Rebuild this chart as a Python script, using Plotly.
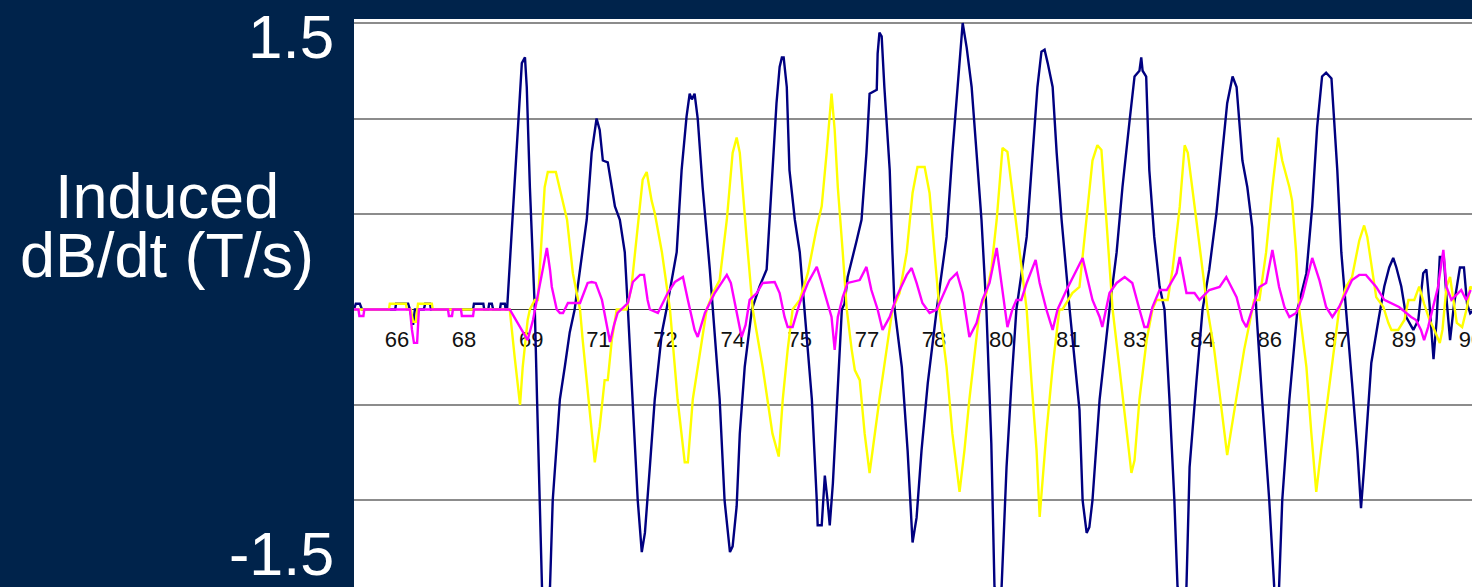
import plotly.graph_objects as go

# ---- data (time in s, induced dB/dt in T/s) ----
navy_t = [65.04, 65.08, 65.17, 65.22, 65.96, 65.98, 66.25, 66.29, 66.36, 66.40, 66.60, 66.63, 66.74, 66.76,
          67.70, 67.72, 67.93, 67.95, 68.04, 68.06, 68.12, 68.15, 68.30, 68.32, 68.41, 68.43,
          68.46, 68.59, 68.70, 68.79, 68.86, 68.90, 68.97, 69.04, 69.08, 69.13, 69.19, 69.24, 69.33, 69.42,
          69.48, 69.64, 69.75, 69.86, 69.97, 70.09, 70.24, 70.35, 70.46, 70.53, 70.60, 70.71, 70.76, 70.87,
          70.98, 71.09, 71.16, 71.27, 71.38, 71.47, 71.54, 71.65, 71.76, 71.92, 72.03, 72.25, 72.36, 72.47,
          72.54, 72.59, 72.65, 72.72, 72.83, 72.99, 73.06, 73.21, 73.32, 73.44, 73.50, 73.59, 73.66, 73.77,
          73.93, 74.10, 74.26, 74.37, 74.48, 74.55, 74.60, 74.64, 74.71, 74.77, 74.89, 75.00, 75.11, 75.27,
          75.38, 75.40, 75.49, 75.56, 75.62, 75.67, 75.74, 75.83, 75.94, 76.00, 76.07, 76.27, 76.38, 76.49,
          76.56, 76.72, 76.74, 76.78, 76.83, 76.89, 77.01, 77.07, 77.12, 77.28, 77.41, 77.52, 77.61, 77.72,
          77.86, 78.06, 78.28, 78.41, 78.53, 78.64, 78.73, 78.84, 78.95, 79.06, 79.17, 79.28, 79.35, 79.42,
          79.51, 79.62, 79.73, 79.84, 80.07, 80.20, 80.31, 80.40, 80.47, 80.54, 80.65, 80.74, 80.85, 81.03,
          81.25, 81.32, 81.41, 81.47, 81.54, 81.70, 81.92, 82.08, 82.21, 82.37, 82.48, 82.59, 82.63, 82.66,
          82.74, 82.81, 82.92, 83.04, 83.15, 83.26, 83.37, 83.44, 83.53, 83.64, 83.71, 83.86, 84.00, 84.15,
          84.31, 84.44, 84.55, 84.67, 84.76, 84.89, 85.00, 85.11, 85.20, 85.33, 85.49, 85.60, 85.65, 85.71,
          85.78, 85.94, 86.12, 86.32, 86.45, 86.56, 86.67, 86.76, 86.88, 86.94, 87.01, 87.10, 87.21, 87.34,
          87.46, 87.54, 87.61, 87.72, 87.77, 87.93, 88.06, 88.17, 88.26, 88.33, 88.44, 88.55, 88.71, 88.82,
          88.93, 89.00, 89.07, 89.16, 89.23, 89.30, 89.39, 89.46, 89.53, 89.62, 89.75, 89.84, 89.91, 89.98,
          90.07]
navy_v = [0, 0.03, 0.03, 0, 0, 0.03, 0.03, 0, -0.08, 0, 0, 0.03, 0.03, 0,
          0, 0.03, 0.03, 0, 0, 0.03, 0.03, 0, 0, 0.03, 0.03, 0,
          0, 0.505, 0.99, 1.29, 1.32, 1.165, 0.64, 0.21, 0, -0.47, -1.0, -1.45, -1.63, -1.45,
          -1.0, -0.47, -0.30, -0.12, 0, 0.21, 0.47, 0.82, 1.00, 0.94, 0.78, 0.77, 0.69, 0.54,
          0.47, 0.30, 0, -0.47, -1.0, -1.27, -1.17, -0.825, -0.47, -0.12, 0.01, 0.30, 0.73, 1.01,
          1.13, 1.10, 1.13, 1.00, 0.64, 0.21, 0, -0.47, -1.0, -1.27, -1.24, -1.03, -0.65, -0.30,
          0, 0.12, 0.21, 0.64, 1.08, 1.27, 1.32, 1.32, 1.165, 0.73, 0.47, 0.30, 0, -0.47,
          -1.0, -1.13, -1.13, -0.87, -1.0, -1.13, -0.91, -0.47, 0, 0.03, 0.17, 0.36, 0.47, 0.82,
          1.13, 1.15, 1.34, 1.45, 1.43, 1.165, 0.73, 0.30, 0, -0.30, -0.74, -1.22, -1.09, -0.74,
          -0.385, 0, 0.38, 0.82, 1.165, 1.50, 1.37, 1.165, 0.82, 0.47, 0, -0.70, -1.45, -1.60,
          -1.45, -0.825, -0.385, 0, 0.38, 0.82, 1.165, 1.35, 1.36, 1.29, 1.165, 0.82, 0.47, 0,
          -0.526, -1.0, -1.17, -1.14, -1.0, -0.47, 0, 0.30, 0.64, 0.99, 1.22, 1.25, 1.32, 1.25,
          1.22, 0.73, 0.38, 0.12, 0, -0.47, -1.0, -1.45, -1.60, -1.45, -0.825, -0.385, 0, 0.21,
          0.505, 0.82, 1.08, 1.22, 1.165, 0.78, 0.64, 0.43, 0, -0.47, -1.0, -1.45, -1.57, -1.45,
          -1.0, -0.47, 0, 0.19, 0.54, 0.955, 1.22, 1.24, 1.21, 0.99, 0.73, 0.30, 0, -0.385,
          -0.74, -1.04, -0.825, -0.47, -0.28, -0.055, 0.12, 0.22, 0.27, 0.22, 0.12, -0.04, -0.107, -0.055,
          0.19, 0.21, 0.03, -0.26, -0.055, 0.275, 0.275, 0.03, -0.16, 0.03, 0.22, 0.22, 0.03, -0.02,
          0]

yellow_t = [65.04, 65.82, 65.84, 66.20, 66.22, 66.31, 66.36, 66.42, 66.47, 66.78, 66.80,
            68.52, 68.63, 68.75, 68.81, 68.92, 68.97, 69.08, 69.15, 69.24, 69.30, 69.37, 69.55, 69.68,
            69.80, 69.93, 70.09, 70.15, 70.31, 70.42, 70.53, 70.64, 70.71, 70.80, 70.91, 71.13, 71.24,
            71.36, 71.49, 71.58, 71.69, 71.76, 71.92, 72.10, 72.27, 72.43, 72.50, 72.61, 72.92, 73.06,
            73.21, 73.37, 73.50, 73.59, 73.66, 73.81, 73.95, 74.17, 74.39, 74.53, 74.62, 74.73, 74.84,
            75.00, 75.18, 75.38, 75.49, 75.60, 75.71, 75.78, 75.85, 75.96, 76.05, 76.16, 76.23, 76.34,
            76.45, 76.56, 76.67, 76.78, 76.94, 77.07, 77.23, 77.39, 77.52, 77.63, 77.79, 77.90, 78.01,
            78.12, 78.28, 78.41, 78.57, 78.68, 78.79, 79.02, 79.17, 79.28, 79.40, 79.51, 79.53, 79.64,
            79.75, 79.91, 80.07, 80.18, 80.29, 80.36, 80.42, 80.51, 80.65, 80.80, 80.87, 81.09, 81.25,
            81.41, 81.54, 81.65, 81.74, 81.85, 81.92, 81.99, 82.14, 82.30, 82.41, 82.48, 82.59, 82.75,
            82.88, 82.97, 83.22, 83.33, 83.49, 83.60, 83.67, 83.86, 84.00, 84.11, 84.26, 84.42, 84.55,
            84.64, 84.75, 84.93, 85.11, 85.15, 85.27, 85.42, 85.56, 85.69, 85.78, 85.94, 86.00, 86.09,
            86.16, 86.32, 86.43, 86.54, 86.65, 86.79, 86.94, 87.05, 87.21, 87.34, 87.50, 87.61, 87.68,
            87.79, 87.88, 88.04, 88.15, 88.22, 88.37, 88.51, 88.60, 88.73, 88.84, 88.95, 89.07, 89.18,
            89.30, 89.36, 89.45, 89.53, 89.62, 89.68, 89.80, 89.91, 89.98, 90.07]
yellow_v = [0, 0, 0.03, 0.03, 0, 0, -0.065, -0.065, 0.03, 0.03, 0,
            0, -0.25, -0.50, -0.30, -0.055, 0, 0.05, 0.05, 0.38, 0.64, 0.72, 0.72, 0.59,
            0.47, 0.19, 0, -0.16, -0.526, -0.80, -0.615, -0.37, -0.37, -0.16, 0, 0, 0.12,
            0.38, 0.68, 0.72, 0.57, 0.505, 0.30, 0, -0.47, -0.80, -0.80, -0.47, 0, 0.086,
            0.154, 0.47, 0.82, 0.90, 0.82, 0.38, 0, -0.30, -0.65, -0.77, -0.47, -0.21, 0,
            0.05, 0.19, 0.43, 0.54, 0.82, 1.13, 0.94, 0.64, 0.30, 0, -0.21, -0.317, -0.37,
            -0.65, -0.856, -0.65, -0.47, -0.21, 0, 0.086, 0.30, 0.61, 0.746, 0.746, 0.61, 0.30,
            0, -0.30, -0.65, -0.955, -0.736, -0.47, 0, 0.086, 0.21, 0.47, 0.82, 0.846, 0.825,
            0.61, 0.30, 0, -0.385, -0.736, -1.086, -0.908, -0.647, -0.30, 0, 0, 0.086, 0.118,
            0.47, 0.78, 0.86, 0.835, 0.47, 0.21, 0, -0.30, -0.647, -0.856, -0.79, -0.47, -0.16,
            0, 0.05, 0.05, 0.21, 0.537, 0.86, 0.82, 0.47, 0.21, 0, -0.21, -0.526, -0.762,
            -0.63, -0.47, -0.21, 0, 0.05, 0.05, 0.30, 0.64, 0.90, 0.78, 0.64, 0.57, 0.30,
            0, -0.30, -0.647, -0.955, -0.736, -0.47, -0.21, 0, 0.12, 0.17, 0.36, 0.44, 0.38,
            0.21, 0.065, 0.013, -0.07, -0.107, -0.107, -0.055, 0.05, 0.05, 0.12, 0.03, -0.055, -0.107,
            -0.175, -0.107, 0.12, 0.17, 0.03, -0.07, -0.092, 0.013, 0.12, 0.10]

magenta_t = [65.04, 65.14, 65.16, 65.25, 65.27, 66.29, 66.335, 66.38, 66.45, 66.49, 67.14, 67.16, 67.23,
             67.25, 67.43, 67.45, 67.70, 67.72,
             68.52, 68.79, 68.92, 69.04, 69.13, 69.19, 69.30, 69.35, 69.42, 69.46, 69.57, 69.64, 69.71,
             69.82, 70.09, 70.26, 70.35, 70.44, 70.58, 70.71, 70.76, 70.85, 70.93, 71.16, 71.27, 71.43,
             71.52, 71.60, 71.65, 71.83, 72.05, 72.21, 72.39, 72.50, 72.65, 72.72, 72.88, 73.10, 73.26,
             73.37, 73.46, 73.61, 73.70, 73.79, 73.88, 74.04, 74.17, 74.44, 74.55, 74.66, 74.73, 74.84,
             75.00, 75.18, 75.38, 75.49, 75.60, 75.71, 75.78, 75.85, 75.96, 76.07, 76.34, 76.49, 76.60,
             76.74, 76.85, 77.01, 77.16, 77.39, 77.50, 77.61, 77.74, 77.90, 78.06, 78.35, 78.51, 78.64,
             78.79, 78.95, 79.08, 79.24, 79.40, 79.53, 79.64, 79.75, 79.84, 79.95, 80.07, 80.27, 80.36,
             80.51, 80.65, 80.76, 80.96, 81.32, 81.43, 81.54, 81.70, 81.76, 81.92, 82.08, 82.26, 82.43,
             82.59, 82.70, 82.77, 82.88, 83.04, 83.20, 83.42, 83.49, 83.64, 83.82, 83.93, 84.15, 84.38,
             84.53, 84.76, 84.89, 84.98, 85.11, 85.27, 85.42, 85.56, 85.71, 85.83, 85.94, 86.09, 86.23,
             86.45, 86.61, 86.76, 86.90, 87.05, 87.34, 87.50, 87.65, 87.88, 88.06, 88.22, 88.39, 88.66,
             88.77, 88.88, 88.95, 89.04, 89.15, 89.26, 89.38, 89.45, 89.56, 89.78, 89.89, 89.99]
magenta_v = [0, 0, -0.034, -0.034, 0, 0, -0.107, -0.175, -0.175, 0, 0, -0.034, -0.034,
             0, 0, -0.034, -0.034, 0,
             0, -0.107, -0.16, -0.055, 0.05, 0.139, 0.249, 0.322, 0.207, 0.118, 0, -0.018, -0.018,
             0.034, 0.034, 0.139, 0.144, 0.139, 0.05, -0.123, -0.17, -0.081, -0.018, 0.034, 0.144, 0.181,
             0.181, 0.05, 0, -0.018, 0.086, 0.144, 0.17, 0.05, -0.107, -0.144, -0.018, 0.086, 0.139,
             0.181, 0.139, -0.039, -0.144, -0.081, 0.05, 0.086, 0.139, 0.144, 0.086, -0.039, -0.092, -0.092,
             0.034, 0.139, 0.223, 0.139, 0.05, -0.039, -0.212, -0.039, 0.065, 0.139, 0.154, 0.223, 0.102,
             0, -0.107, -0.039, 0.065, 0.181, 0.217, 0.139, 0.034, -0.018, 0, 0.154, 0.191, 0.086,
             -0.144, -0.071, 0.05, 0.139, 0.322, 0.086, -0.092, 0, 0.05, 0.05, 0.139, 0.26, 0.139,
             0, -0.107, 0, 0.102, 0.27, 0.154, 0.05, -0.039, -0.092, 0.086, 0.139, 0.17, 0.139,
             0, -0.092, -0.092, 0.013, 0.102, 0.102, 0.191, 0.275, 0.086, 0.086, 0.05, 0.102, 0.118,
             0.17, 0.065, -0.055, -0.092, 0, 0.118, 0.139, 0.312, 0.118, 0.013, -0.039, -0.018, 0.065,
             0.27, 0.154, 0.013, -0.039, 0.013, 0.154, 0.181, 0.181, 0.118, 0.05, 0.034, 0.013, -0.039,
             -0.055, -0.107, -0.16, -0.092, 0.013, 0.118, 0.312, 0.118, 0.05, 0.102, 0.05, 0.102]

tick_vals = [66, 67.5, 69, 70.5, 72, 73.5, 75, 76.5, 78, 79.5, 81, 82.5, 84, 85.5, 87, 88.5, 90]
tick_text = ["66", "68", "69", "71", "72", "74", "75", "77", "78", "80", "81", "83", "84", "86", "87", "89", "90"]
grid_vals = [-1.0, -0.5, 0.5, 1.0, 1.5]
y_top_label = "1.5"
y_bottom_label = "-1.5"
y_title_lines = ["Induced", "dB/dt (T/s)"]

x_range = [65.04, 90.02]
y_range = [-1.453, 1.521]

BG = "#00234b"
FONT = "Liberation Sans, Arial, Helvetica, sans-serif"

fig = go.Figure()
for t, v, col in [(navy_t, navy_v, "#000080"),
                  (yellow_t, yellow_v, "#ffff00"),
                  (magenta_t, magenta_v, "#ff00ff")]:
    fig.add_trace(go.Scatter(x=t, y=v, mode="lines", line=dict(color=col, width=2.4),
                             hoverinfo="skip", showlegend=False))

zero_pos = (0 - y_range[0]) / (y_range[1] - y_range[0])

fig.update_layout(
    template="none",
    width=1472, height=587,
    margin=dict(l=354, r=0, t=19, b=0, pad=0),
    paper_bgcolor=BG, plot_bgcolor="white",
    showlegend=False,
    xaxis=dict(range=x_range, tickmode="array", tickvals=tick_vals, ticktext=tick_text,
               showgrid=False, zeroline=False, anchor="free", position=zero_pos,
               ticks="", ticklabelstandoff=10, ticklabeloverflow="allow",
               tickfont=dict(family=FONT, size=22, color="#111111"),
               showline=True, linecolor="#3a3a3a", linewidth=1, layer="below traces",
               automargin=False, fixedrange=True),
    yaxis=dict(range=y_range, tickmode="array", tickvals=grid_vals, showticklabels=False,
               showgrid=True, gridcolor="#8c8c8c", gridwidth=2, zeroline=False,
               showline=False, ticks="", automargin=False, fixedrange=True),
    annotations=[
        dict(text=y_top_label, xref="paper", yref="paper", x=0, y=0.969, xanchor="right",
             yanchor="middle", xshift=-18, showarrow=False,
             font=dict(family=FONT, size=62, color="white")),
        dict(text=y_bottom_label, xref="paper", yref="paper", x=0, y=0.058, xanchor="right",
             yanchor="middle", xshift=-18, showarrow=False,
             font=dict(family=FONT, size=61, color="white")),
        dict(text=y_title_lines[0], xref="paper", yref="paper", x=0, y=0.689, xanchor="center",
             yanchor="middle", xshift=-187, showarrow=False,
             font=dict(family=FONT, size=63, color="white")),
        dict(text=y_title_lines[1], xref="paper", yref="paper", x=0, y=0.584, xanchor="center",
             yanchor="middle", xshift=-187, showarrow=False,
             font=dict(family=FONT, size=63, color="white")),
    ],
)

fig.write_html("out.html", config={"displayModeBar": False},
               post_script="document.body.style.margin='0px';document.body.style.overflow='hidden';")
